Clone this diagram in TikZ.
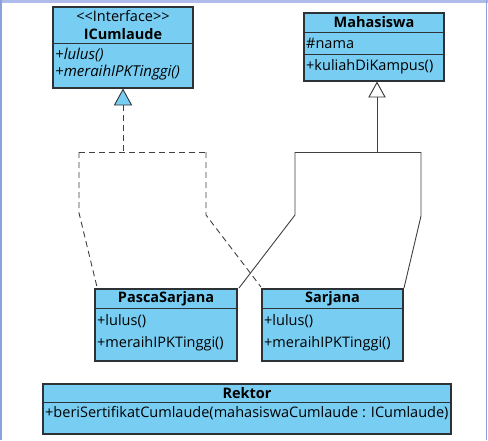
\documentclass[tikz,border=0pt]{standalone}
\usepackage{fontspec}
\setmainfont{Open Sans}
\usetikzlibrary{arrows.meta}
\definecolor{umlfill}{RGB}{120,206,242}
\definecolor{umlline}{RGB}{45,50,55}
\definecolor{frameblue}{RGB}{140,160,220}
\definecolor{frametop}{RGB}{175,188,235}
\tikzset{
  box/.style={draw=umlline, line width=1.1pt, fill=umlfill},
  shadowbox/.style={fill=black!30},
  sep/.style={draw=umlline, line width=0.9pt},
  title/.style={font=\bfseries\fontsize{14.5}{16}\selectfont, inner sep=0pt},
  member/.style={font=\fontsize{14.5}{16}\selectfont, inner sep=0pt, anchor=west},
  imember/.style={font=\itshape\fontsize{15}{16}\selectfont, inner sep=0pt, anchor=west},
  link/.style={draw=black!75, line width=0.9pt},
  dlink/.style={draw=black!75, line width=0.9pt, dash pattern=on 6pt off 4pt},
  tri/.style={draw=black!80, line width=0.9pt, line join=miter}
}
\begin{document}
\begin{tikzpicture}[x=1pt,y=-1pt]
\useasboundingbox (0,0) rectangle (488,440);
\fill[white] (0,0) rectangle (488,440);
% frame
\draw[frametop, line width=3pt] (0,1.5) -- (488,1.5);
\draw[frameblue, line width=1.5pt] (1,0) -- (1,440);
\draw[frameblue, line width=1.2pt] (486.5,0) -- (486.5,440);

% ICumlaude
\fill[shadowbox] (54.2,8.2) rectangle (194.2,89.2);
\draw[box] (53,7) rectangle (193,88);
\draw[sep] (53,43) -- (193,43);
\node[inner sep=0pt, font=\fontsize{14.5}{16}\selectfont] (icI) at (123,16.5) {{<}{<}Interface{>}{>}};
\node[title] (icT) at (123,34) {ICumlaude};
\node[imember] (ic1) at (55,55) {+lulus()};
\node[imember] (ic2) at (55,72.5) {+meraihIPKTinggi()};

% Mahasiswa
\fill[shadowbox] (305.2,14.2) rectangle (445.2,82.2);
\draw[box] (304,13) rectangle (444,81);
\draw[sep] (304,32) -- (444,32);
\draw[sep] (304,54) -- (444,54);
\node[title] (mT) at (374,22.5) {Mahasiswa};
\node[member] (m1) at (306,43) {\#nama};
\node[member] (m2) at (306,67) {+kuliahDiKampus()};

% PascaSarjana
\fill[shadowbox] (96.2,290.2) rectangle (238.2,362.2);
\draw[box] (95,289) rectangle (237,361);
\draw[sep] (95,308) -- (237,308);
\node[title] (pT) at (166,298.5) {PascaSarjana};
\node[member] (p1) at (97,321) {+lulus()};
\node[member] (p2) at (97,344) {+meraihIPKTinggi()};

% Sarjana
\fill[shadowbox] (263.2,290.2) rectangle (404.2,362.2);
\draw[box] (262,289) rectangle (403,361);
\draw[sep] (262,308) -- (403,308);
\node[title] (sT) at (332.5,298.5) {Sarjana};
\node[member] (s1) at (264,321) {+lulus()};
\node[member] (s2) at (264,344) {+meraihIPKTinggi()};

% Rektor
\fill[shadowbox] (44.2,385.2) rectangle (452.2,435.2);
\draw[box] (43,384) rectangle (451,434);
\draw[sep] (43,402) -- (451,402);
\node[title] (rT) at (247,393) {Rektor};
\node[member] (r1) at (45,413) {+beriSertifikatCumlaude(mahasiswaCumlaude : ICumlaude)};

% realization (dashed) to ICumlaude
\coordinate (icApex) at (123,89.5);
\coordinate (icBase) at (123,105);
\draw[tri, fill=umlfill] (icApex) -- (114.5,105) -- (131.5,105) -- cycle;
\coordinate (dj) at (123,152);
\draw[dlink] (icBase) -- (dj);
\draw[dlink] (79,152) -- (206,152);
\draw[dlink] (79,152) -- (79,213) -- (97,287);
\draw[dlink] (206,152) -- (206,215) -- (261,287);

% generalization (solid) to Mahasiswa
\coordinate (mApex) at (377,82.5);
\coordinate (mBase) at (377,97);
\draw[tri, fill=white] (mApex) -- (369,97) -- (385,97) -- cycle;
\draw[link] (mBase) -- (377,152);
\draw[link] (295,152) -- (421,152);
\draw[link] (295,152) -- (295,215) -- (239,288);
\draw[link] (421,152) -- (421,216) -- (404,288);
\end{tikzpicture}
\end{document}
